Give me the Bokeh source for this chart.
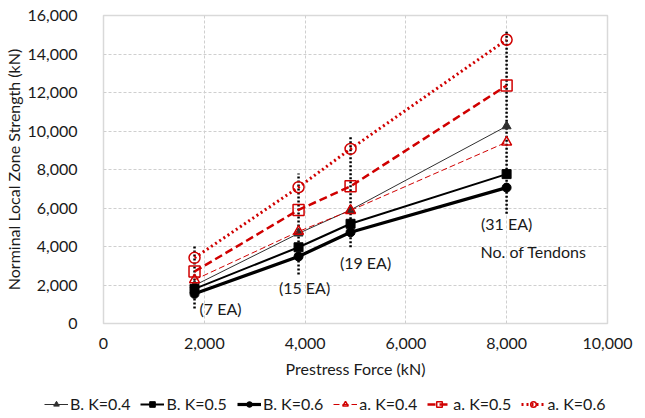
from bokeh.plotting import figure
from bokeh.models import Legend, LegendItem, Label, NumeralTickFormatter, FixedTicker, Range1d
from bokeh.embed import file_html
from bokeh.resources import INLINE

# ---- data ----
tendons = [7, 15, 19, 31]
prestress = [1806, 3870, 4902, 7998]
b_k04 = [1980, 4680, 5900, 10250]
b_k05 = [1800, 3960, 5180, 7760]
b_k06 = [1540, 3480, 4740, 7060]
a_k04 = [2270, 4780, 5870, 9420]
a_k05 = [2700, 5900, 7130, 12360]
a_k06 = [3410, 7080, 9070, 14740]
range_low = [780, 2540, 3960, 5700]
range_high = [4000, 7790, 9770, 15260]
x_ticks = [0, 2000, 4000, 6000, 8000, 10000]
y_ticks = [0, 2000, 4000, 6000, 8000, 10000, 12000, 14000, 16000]

FONT = "Lato"
RED = "#D00000"
TXT = "#1a1a1a"

p = figure(width=640, height=390, output_backend="svg", toolbar_location=None,
           x_range=Range1d(0, 10000), y_range=Range1d(0, 16000),
           min_border_left=103, min_border_right=33, min_border_top=15, min_border_bottom=67)
p.background_fill_color = "white"
p.border_fill_color = "white"
p.outline_line_color = "#D9D9D9"
p.outline_line_width = 1.5

for ax in (p.xaxis[0], p.yaxis[0]):
    ax.formatter = NumeralTickFormatter(format="0,0")
    ax.major_tick_line_color = None
    ax.minor_tick_line_color = None
    ax.axis_line_color = None
    ax.major_label_text_font = FONT
    ax.major_label_text_font_size = "16px"
    ax.major_label_text_color = TXT
    ax.axis_label_text_font = FONT
    ax.axis_label_text_font_size = "16px"
    ax.axis_label_text_font_style = "normal"
    ax.axis_label_text_color = TXT
p.xaxis[0].ticker = FixedTicker(ticks=x_ticks)
p.yaxis[0].ticker = FixedTicker(ticks=y_ticks)
p.xaxis[0].axis_label = "Prestress Force (kN)"
p.yaxis[0].axis_label = "Norminal Local Zone Strength (kN)"
p.xaxis[0].major_label_standoff = 8
p.yaxis[0].major_label_standoff = 20
p.xaxis[0].axis_label_standoff = 7
p.yaxis[0].axis_label_standoff = 1

for g in (p.xgrid[0], p.ygrid[0]):
    g.grid_line_color = "#CFCFCF"
    g.grid_line_dash = "3 2"
    g.grid_line_width = 1

# vertical dotted tendon lines
p.segment(x0=prestress, y0=range_low, x1=prestress, y1=range_high,
          line_color="black", line_width=2.5, line_dash="2 2")

styles = [
    (b_k04, "B. K=0.4", "#303030", 1, "solid", "triangle", 9, True),
    (b_k05, "B. K=0.5", "black", 2, "solid", "square", 9, True),
    (b_k06, "B. K=0.6", "black", 3.2, "solid", "circle", 9, True),
    (a_k04, "a. K=0.4", RED, 1, "6 3", "triangle", 10, False),
    (a_k05, "a. K=0.5", RED, 2.5, "8 4", "square", 11, False),
    (a_k06, "a. K=0.6", RED, 3, "2 3", "circle", 11, False),
]

def draw(fig, xs, ys, color, lw, dash, marker, msize, filled):
    r1 = fig.line(xs, ys, line_color=color, line_width=lw, line_dash=dash)
    if filled:
        r2 = fig.scatter(xs, ys, marker=marker, size=msize, fill_color=color, line_color=color)
    else:
        r2 = fig.scatter(xs, ys, marker=marker, size=msize, fill_color="white",
                         fill_alpha=0, line_color=color, line_width=1.5)
    return r1, r2

# legend strip: a separate root below the chart
lf = figure(width=640, height=26, output_backend="svg", toolbar_location=None,
            x_range=Range1d(0, 1), y_range=Range1d(0, 1), x_axis_type=None, y_axis_type=None,
            min_border=0)
lf.outline_line_color = None
lf.xgrid.visible = False
lf.ygrid.visible = False

nan = float("nan")
items = []
for ys, label, color, lw, dash, marker, msize, filled in styles:
    draw(p, prestress, ys, color, lw, dash, marker, msize, filled)
    r1, r2 = draw(lf, [nan], [nan], color, lw, dash, marker, msize, filled)
    items.append(LegendItem(label=label, renderers=[r1, r2]))

# tendon labels
label_y = [800, 1886, 3185, 5180]
label_dx = [5, 6, 15, 0]
label_align = ["left", "center", "center", "center"]
for n, x, y, dx, al in zip(tendons, prestress, label_y, label_dx, label_align):
    p.add_layout(Label(x=x, y=y, x_offset=dx, text=f"({n} EA)", text_font=FONT,
                       text_font_size="16px", text_align=al, text_baseline="middle",
                       text_color=TXT))
p.add_layout(Label(x=prestress[-1], y=3740, x_offset=27, text="No. of Tendons", text_font=FONT,
                   text_font_size="16px", text_align="center", text_baseline="middle",
                   text_color=TXT))

legend = Legend(items=items, orientation="horizontal", location=(44, 3),
                label_text_font=FONT, label_text_font_size="16px", label_text_color=TXT,
                glyph_width=24, glyph_height=14, label_standoff=2, spacing=10,
                border_line_color=None, background_fill_alpha=0, padding=0, margin=0)
lf.add_layout(legend, "center")

open("out.html", "w").write(file_html([p, lf], INLINE))
